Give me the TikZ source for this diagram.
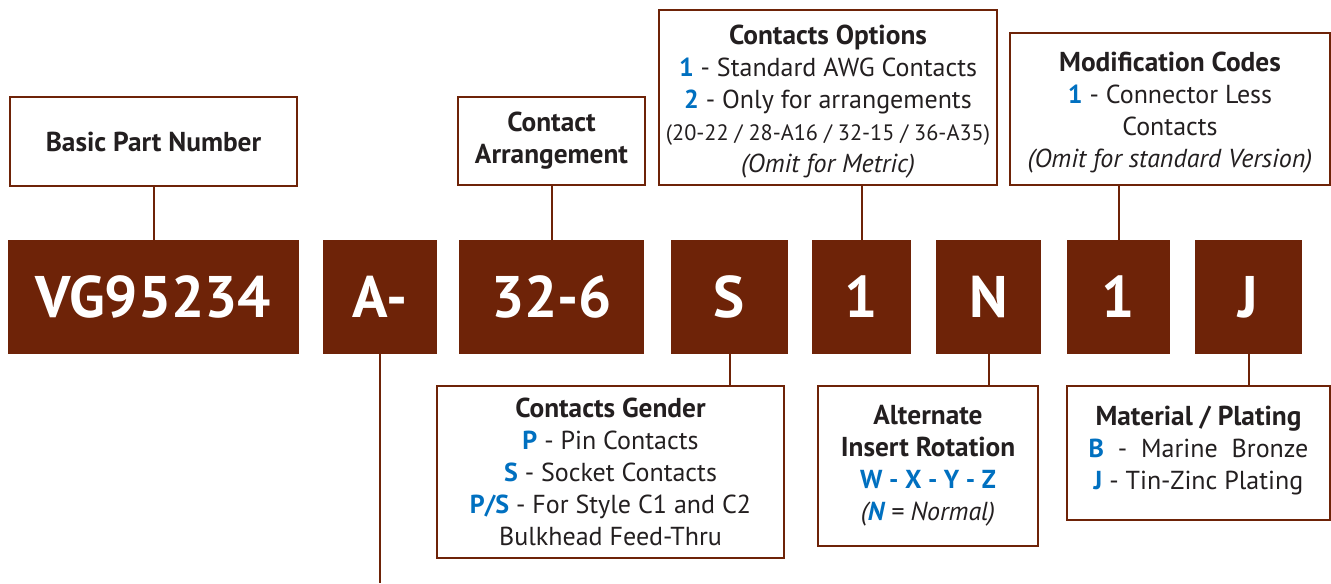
\documentclass[tikz,border=0pt]{standalone}
\usepackage{fontspec}
\setmainfont{PT Sans}
\definecolor{brn}{HTML}{6E2308}
\definecolor{blu}{HTML}{0070C0}
\definecolor{ink}{HTML}{231F20}
\newcommand{\bl}[1]{\textcolor{blu}{\textbf{#1}}}
\newcommand{\hd}[1]{{\fontsize{20.5}{24}\selectfont\textbf{#1}}}
\begin{document}
\begin{tikzpicture}[x=0.75pt,y=-0.75pt,
 code/.style={fill=brn, draw=none, text=white, font=\bfseries\fontsize{44}{44}\selectfont, inner sep=0pt, anchor=center},
 lab/.style={draw=brn, line width=1.5pt, fill=white, text=ink, align=center, inner sep=0pt, anchor=center, font=\fontsize{19.5}{24}\selectfont},
 txt/.style={text=ink, align=center, inner sep=0pt, anchor=center, font=\fontsize{19.5}{24}\selectfont},
 link/.style={draw=brn, line width=1.5pt}]
\useasboundingbox (0,0) rectangle (1331,583);
% code boxes
\node[code, minimum width=291*0.75pt, minimum height=114*0.75pt] (vg) at (153.5,297) {VG95234};
\node[code, minimum width=114*0.75pt, minimum height=114*0.75pt] (a) at (380,297) {A-};
\node[code, minimum width=185*0.75pt, minimum height=114*0.75pt] (c32) at (551.5,297) {32-6};
\node[code, minimum width=117*0.75pt, minimum height=114*0.75pt] (s) at (729.5,297) {S};
\node[code, minimum width=99*0.75pt, minimum height=114*0.75pt] (o1) at (861.5,297) {1};
\node[code, minimum width=105*0.75pt, minimum height=114*0.75pt] (n) at (988.5,297) {N};
\node[code, minimum width=103*0.75pt, minimum height=114*0.75pt] (o2) at (1118.5,297) {1};
\node[code, minimum width=107*0.75pt, minimum height=114*0.75pt] (j) at (1248.5,297) {J};
% label boxes
\node[lab, minimum width=287*0.75pt, minimum height=89*0.75pt] (bpn) at (153.5,141.5) {\hd{Basic Part Number}};
\node[lab, minimum width=187*0.75pt, minimum height=88*0.75pt] (arr) at (551.5,141) {\hd{Contact}\\\hd{Arrangement}};
\node[lab, minimum width=338*0.75pt, minimum height=175*0.75pt] (opt) at (828,97.5) {};
\node[txt] (optt) at ([yshift=-3pt]opt.center) {\hd{Contacts Options}\\\bl{1} - Standard AWG Contacts\\\bl{2} - Only for arrangements\\{\fontsize{16.7}{24}\selectfont(20-22 / 28-A16 / 32-15 / 36-A35)}\\\textit{(Omit for Metric)}};
\node[lab, minimum width=320*0.75pt, minimum height=152*0.75pt] (mod) at (1170,109) {};
\node[txt] (modt) at ([yshift=-3pt]mod.center) {\hd{Modification Codes}\\\bl{1} - Connector Less\\Contacts\\\textit{(Omit for standard Version)}};
\node[lab, minimum width=347*0.75pt, minimum height=172*0.75pt] (gen) at (610.5,472) {\hd{Contacts Gender}\\\bl{P} - Pin Contacts\\\bl{S} - Socket Contacts\\\bl{P/S} - For Style C1 and C2\\Bulkhead Feed-Thru};
\node[lab, minimum width=220*0.75pt, minimum height=160*0.75pt] (alt) at (928,466) {\hd{Alternate}\\\hd{Insert Rotation}\\\bl{W - X - Y - Z}\\\textit{(\bl{N} = Normal)}};
\node[lab, minimum width=263*0.75pt, minimum height=134*0.75pt] (mat) at (1198.5,453) {};
\node[txt] (matt) at ([yshift=2pt]mat.center) {\hd{Material / Plating}\\\bl{B} \ - \ Marine \ Bronze\\\bl{J} - Tin-Zinc Plating};
% connectors
\draw[link] (bpn.south) -- (bpn.south |- vg.north);
\draw[link] (arr.south) -- (arr.south -| c32.north) -- (c32.north);
\draw[link] (o1.north) -- (o1.north |- opt.south);
\draw[link] (o2.north) -- (o2.north |- mod.south);
\draw[link] (s.south) -- (s.south |- gen.north);
\draw[link] (n.south) -- (n.south |- alt.north);
\draw[link] (j.south) -- (j.south |- mat.north);
\coordinate (aend) at (380,583);
\draw[link] (a.south) -- (aend);
\end{tikzpicture}
\end{document}
